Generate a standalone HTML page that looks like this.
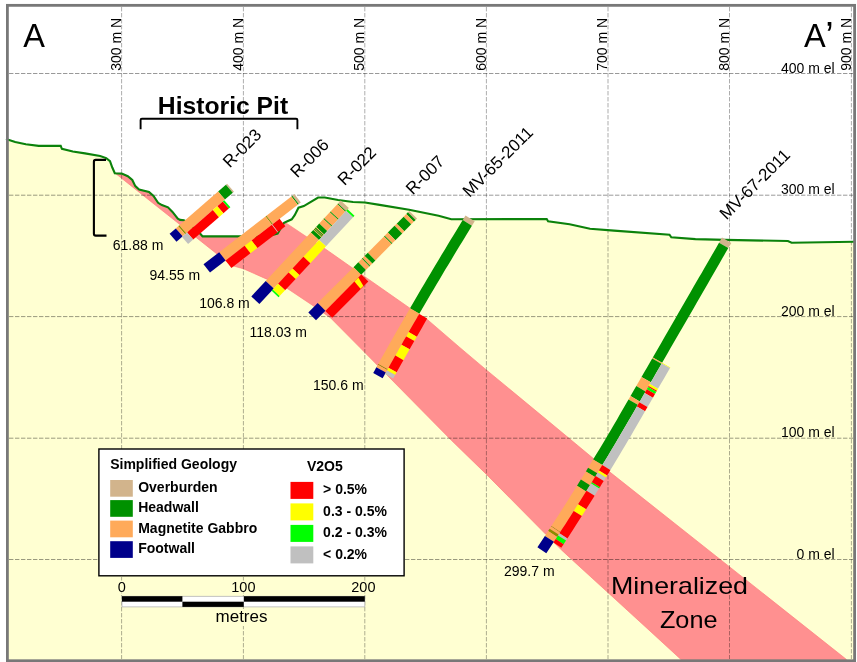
<!DOCTYPE html>
<html lang="en"><head><meta charset="utf-8"><title>Cross Section A-A'</title>
<style>html,body{margin:0;padding:0;background:#fff}body{width:857px;height:662px;overflow:hidden}svg{display:block;will-change:transform}text{font-family:"Liberation Sans",Arial,sans-serif;fill:#000}</style></head><body>
<svg width="857" height="662" viewBox="0 0 857 662">
<rect width="857" height="662" fill="#fff"/>
<polygon points="6,139 8.3,139.7 15.2,142 25.8,144.3 38.7,145.9 60.7,145.8 61.9,148.8 72.8,151.5 85,153.4 100.1,155.9 106.2,158.1 110,161.1 112.3,167.5 114.8,173.2 121.7,173.6 127.8,176.2 132.3,180 135.3,186.1 139.1,189.6 149,191.9 153.5,196 158.1,202.8 161.9,205.1 168,207.3 172.5,211.9 177.8,218.7 180.1,219.9 183.9,220.2 188,222.5 194,228.5 200.3,233.7 202.6,236.4 240.3,236.4 268,236.4 272.5,235 277.6,233.6 284,222.8 291.7,219.3 294.7,215.2 298.5,207.7 303.8,206.1 318.1,197.5 324.8,197.5 338.1,200 353,202 365,202.5 379.6,204.9 409.1,209.8 438.6,215.8 451.3,219.2 546.7,219 548.1,221.3 569.6,224.3 590,228.8 614,230.6 669.5,234.7 671.3,237.3 695.4,239.1 725,239.9 787.9,241 791.6,242.8 854,241.7 854,661 6,661" fill="#ffffd2"/>
<polygon points="115.6,173.5 231.5,265.5 243.3,268.7 266.3,278.9 287.8,288.8 315.8,307.5 330.4,317.7 360,347.6 400.8,389 451.1,440 486.5,474.4 545.5,534 562,550.4 571.8,559.5 607.7,592.3 650,631 681,659.5 846.5,659.5 606,469 550,422.5 486.3,369.9 460,347.7 427.2,319.4 410.2,308.4 396,298.5 367.7,278.7 325.7,249.2 307.2,237.2 285.8,222.9 284,222.8 277.6,233.6 272.5,235 268,236.4 240.3,236.4 202.6,236.4 200.3,233.7 194,228.5 188,222.5 183.9,220.2 180.1,219.9 177.8,218.7 172.5,211.9 168,207.3 161.9,205.1 158.1,202.8 153.5,196 149,191.9 139.1,189.6 135.3,186.1 132.3,180 127.8,176.2 121.7,173.6 114.8,173.2" fill="#ff9090" stroke="#ff7c7c" stroke-width="0.7" stroke-linejoin="round"/>
<g stroke="#000" stroke-width="1" stroke-dasharray="4.4 1.6" fill="none">
<g stroke-opacity="0.32">
<line x1="121.6" y1="7" x2="121.6" y2="659"/>
<line x1="243.4" y1="7" x2="243.4" y2="659"/>
<line x1="364.8" y1="7" x2="364.8" y2="659"/>
<line x1="486.4" y1="7" x2="486.4" y2="659"/>
<line x1="608" y1="7" x2="608" y2="659"/>
<line x1="729.5" y1="7" x2="729.5" y2="659"/>
<line x1="851.4" y1="7" x2="851.4" y2="659"/>
</g><g stroke-opacity="0.4">
<line x1="9" y1="73.5" x2="853" y2="73.5"/>
<line x1="9" y1="195.2" x2="853" y2="195.2"/>
<line x1="9" y1="316.6" x2="853" y2="316.6"/>
<line x1="9" y1="438.2" x2="853" y2="438.2"/>
<line x1="9" y1="559.5" x2="853" y2="559.5"/>
</g></g>
<polyline points="6,139 8.3,139.7 15.2,142 25.8,144.3 38.7,145.9 60.7,145.8 61.9,148.8 72.8,151.5 85,153.4 100.1,155.9 106.2,158.1 110,161.1 112.3,167.5 114.8,173.2 121.7,173.6 127.8,176.2 132.3,180 135.3,186.1 139.1,189.6 149,191.9 153.5,196 158.1,202.8 161.9,205.1 168,207.3 172.5,211.9 177.8,218.7 180.1,219.9 183.9,220.2 188,222.5 194,228.5 200.3,233.7 202.6,236.4 240.3,236.4 268,236.4 272.5,235 277.6,233.6 284,222.8 291.7,219.3 294.7,215.2 298.5,207.7 303.8,206.1 318.1,197.5 324.8,197.5 338.1,200 353,202 365,202.5 379.6,204.9 409.1,209.8 438.6,215.8 451.3,219.2 546.7,219 548.1,221.3 569.6,224.3 590,228.8 614,230.6 669.5,234.7 671.3,237.3 695.4,239.1 725,239.9 787.9,241 791.6,242.8 854,241.7" fill="none" stroke="#0b820b" stroke-width="2.1" stroke-linejoin="miter" stroke-miterlimit="2.5"/>
<g>
<polygon points="234,191.7 232.8,192.7 225.9,184.8 227.1,183.8" fill="#d2b48c"/>
<polygon points="232.8,192.7 224.9,199.6 218.1,191.6 225.9,184.8" fill="#009100"/>
<polygon points="224.9,199.6 186.2,233.2 179.3,225.3 218.1,191.6" fill="#ffaa5a"/>
<polygon points="186.2,233.2 185.1,234.2 178.2,226.3 179.3,225.3" fill="#8c8c00"/>
<polygon points="185.1,234.2 182.7,236.3 175.8,228.4 178.2,226.3" fill="#ffaa5a"/>
<polygon points="182.7,236.3 176.5,241.7 169.6,233.8 175.8,228.4" fill="#00008b"/>
<polygon points="224.3,200.2 222.7,201.5 228.8,208.6 230.4,207.2" fill="#00ff00"/>
<polygon points="222.7,201.5 217.3,206.2 223.4,213.2 228.8,208.6" fill="#ff0000"/>
<polygon points="217.3,206.2 212.8,210.1 218.9,217.2 223.4,213.2" fill="#ffff00"/>
<polygon points="212.8,210.1 187.1,232.5 193.2,239.5 218.9,217.2" fill="#ff0000"/>
<polygon points="187.1,232.5 182,236.9 188.1,243.9 193.2,239.5" fill="#c0c0c0"/>
</g>
<g>
<polygon points="300.8,202.4 298.7,204 292.3,195.7 294.4,194.1" fill="#d2b48c"/>
<polygon points="298.7,204 297.8,204.7 291.4,196.4 292.3,195.7" fill="#009100"/>
<polygon points="297.8,204.7 272.9,224 266.4,215.7 291.4,196.4" fill="#ffaa5a"/>
<polygon points="272.9,224 271.9,224.7 265.5,216.4 266.4,215.7" fill="#8c8c00"/>
<polygon points="271.9,224.7 225.6,260.5 219.2,252.2 265.5,216.4" fill="#ffaa5a"/>
<polygon points="225.6,260.5 210,272.6 203.5,264.3 219.2,252.2" fill="#00008b"/>
<polygon points="279.6,218.8 272.2,224.5 278,232.1 285.4,226.3" fill="#ff0000"/>
<polygon points="272.2,224.5 271.8,224.8 277.6,232.4 278,232.1" fill="#c0c0c0"/>
<polygon points="271.8,224.8 251.6,240.4 257.4,248 277.6,232.4" fill="#ff0000"/>
<polygon points="251.6,240.4 244.6,245.8 250.4,253.3 257.4,248" fill="#ffff00"/>
<polygon points="244.6,245.8 225.6,260.5 231.4,268 250.4,253.3" fill="#ff0000"/>
</g>
<g>
<polygon points="348.8,208 346.1,210.9 338,203.4 340.7,200.5" fill="#d2b48c"/>
<polygon points="346.1,210.9 345.3,211.7 337.3,204.2 338,203.4" fill="#009100"/>
<polygon points="345.3,211.7 338.6,219 330.5,211.4 337.3,204.2" fill="#ffaa5a"/>
<polygon points="338.6,219 337.9,219.7 329.8,212.2 330.5,211.4" fill="#009100"/>
<polygon points="337.9,219.7 332.2,225.8 324.1,218.3 329.8,212.2" fill="#ffaa5a"/>
<polygon points="332.2,225.8 331.5,226.6 323.4,219.1 324.1,218.3" fill="#009100"/>
<polygon points="331.5,226.6 327.2,231.1 319.2,223.6 323.4,219.1" fill="#ffaa5a"/>
<polygon points="327.2,231.1 324.1,234.5 316.1,227 319.2,223.6" fill="#009100"/>
<polygon points="324.1,234.5 321.4,237.4 313.3,229.9 316.1,227" fill="#ffaa5a"/>
<polygon points="323.5,235.1 322.9,235.7 314.9,228.2 315.5,227.6" fill="#009100"/>
<polygon points="322.5,236.2 321.9,236.8 313.9,229.3 314.5,228.7" fill="#009100"/>
<polygon points="321.4,237.4 318.9,240.1 310.8,232.6 313.3,229.9" fill="#009100"/>
<polygon points="318.9,240.1 273.8,288.4 265.7,280.9 310.8,232.6" fill="#ffaa5a"/>
<polygon points="273.8,288.4 259.4,303.9 251.3,296.4 265.7,280.9" fill="#00008b"/>
<polygon points="347.6,209.3 346.1,210.8 353.1,217.3 354.5,215.8" fill="#00ff00"/>
<polygon points="346.1,210.8 319.1,239.9 326,246.3 353.1,217.3" fill="#c0c0c0"/>
<polygon points="319.1,239.9 303.4,256.7 310.3,263.2 326,246.3" fill="#ffff00"/>
<polygon points="303.4,256.7 292.5,268.4 299.4,274.9 310.3,263.2" fill="#ff0000"/>
<polygon points="292.5,268.4 288.6,272.5 295.6,279 299.4,274.9" fill="#ffff00"/>
<polygon points="288.6,272.5 278.1,283.7 285.1,290.2 295.6,279" fill="#ff0000"/>
<polygon points="278.1,283.7 272.7,289.6 279.6,296.1 285.1,290.2" fill="#ffff00"/>
<polygon points="272.7,289.6 271.7,290.7 278.6,297.2 279.6,296.1" fill="#00ff00"/>
</g>
<g>
<polygon points="417,218.5 415.6,219.9 407.9,212.3 409.3,210.9" fill="#d2b48c"/>
<polygon points="415.6,219.9 413.8,221.7 406.2,214.1 407.9,212.3" fill="#009100"/>
<polygon points="413.8,221.7 411.2,224.3 403.6,216.7 406.2,214.1" fill="#ffaa5a"/>
<polygon points="411.2,224.3 404.3,231.3 396.7,223.7 403.6,216.7" fill="#009100"/>
<polygon points="404.3,231.3 402.2,233.4 394.5,225.8 396.7,223.7" fill="#ffaa5a"/>
<polygon points="402.2,233.4 395.4,240.2 387.8,232.6 394.5,225.8" fill="#009100"/>
<polygon points="395.4,240.2 392.3,243.3 384.7,235.7 387.8,232.6" fill="#ffaa5a"/>
<polygon points="392.3,243.3 391.6,244 384,236.4 384.7,235.7" fill="#009100"/>
<polygon points="391.6,244 375.4,260.4 367.8,252.8 384,236.4" fill="#ffaa5a"/>
<polygon points="375.4,260.4 372.3,263.6 364.6,255.9 367.8,252.8" fill="#009100"/>
<polygon points="372.3,263.6 370.1,265.7 362.5,258.1 364.6,255.9" fill="#ffaa5a"/>
<polygon points="370.1,265.7 369.4,266.4 361.8,258.8 362.5,258.1" fill="#009100"/>
<polygon points="369.4,266.4 365.9,269.9 358.3,262.3 361.8,258.8" fill="#ffaa5a"/>
<polygon points="365.9,269.9 361.1,274.8 353.5,267.2 358.3,262.3" fill="#009100"/>
<polygon points="361.1,274.8 325.4,310.7 317.7,303.1 353.5,267.2" fill="#ffaa5a"/>
<polygon points="325.4,310.7 316,320.3 308.3,312.6 317.7,303.1" fill="#00008b"/>
<polygon points="361.3,274.6 325.3,310.9 332.2,317.8 368.3,281.5" fill="#ff0000"/>
<polygon points="358.4,277.5 354.4,281.6 360.5,288.7 363.4,285.9" fill="#ffff00"/>
</g>
<g>
<polygon points="474.7,221.3 471.9,225.8 462.7,220.1 465.5,215.6" fill="#d2b48c"/>
<polygon points="471.9,225.8 468.9,230.7 466,235.5 463,240.4 460,245.2 457.1,250.1 454.1,255 451.2,259.9 448.3,264.7 445.3,269.6 442.4,274.5 439.5,279.4 436.6,284.3 433.7,289.2 430.8,294.1 427.9,299 425,303.9 422.2,308.8 419.3,313.8 410,308.3 412.8,303.4 415.7,298.5 418.6,293.5 421.5,288.6 424.4,283.7 427.3,278.8 430.2,273.9 433.1,269 436.1,264.1 439,259.2 441.9,254.3 444.9,249.4 447.8,244.5 450.8,239.6 453.8,234.8 456.7,229.9 459.7,225 462.7,220.1" fill="#009100"/>
<polygon points="419.3,313.8 416.4,318.8 413.5,323.8 410.6,328.8 407.7,333.9 404.8,338.9 401.9,343.9 399.1,349 396.2,354 393.4,359.1 390.5,364.1 387.7,369.2 378.3,363.9 381.1,358.8 384,353.8 386.8,348.7 389.7,343.6 392.6,338.6 395.4,333.5 398.3,328.5 401.2,323.4 404.1,318.4 407,313.4 410,308.3" fill="#ffaa5a"/>
<polygon points="387.7,369.2 387.2,370.1 377.8,364.8 378.3,363.9" fill="#8c8c00"/>
<polygon points="387.2,370.1 385.8,372.6 376.3,367.3 377.8,364.8" fill="#ffaa5a"/>
<polygon points="385.8,372.6 384.2,375.4 382.6,378.3 373.2,373 374.8,370.2 376.3,367.3" fill="#00008b"/>
<polygon points="419.2,313.9 416.6,318.5 413.9,323 411.3,327.6 408.7,332.1 416.8,336.8 419.4,332.2 422,327.7 424.6,323.1 427.2,318.6" fill="#ff0000"/>
<polygon points="408.7,332.1 406.2,336.5 414.3,341.1 416.8,336.8" fill="#ffff00"/>
<polygon points="406.2,336.5 403.8,340.6 401.5,344.7 409.6,349.3 411.9,345.2 414.3,341.1" fill="#ff0000"/>
<polygon points="401.5,344.7 399.4,348.3 397.4,352 395.3,355.6 403.4,360.2 405.5,356.5 407.5,352.9 409.6,349.3" fill="#ffff00"/>
<polygon points="395.3,355.6 393,359.7 390.7,363.7 388.5,367.8 396.6,372.3 398.9,368.3 401.1,364.2 403.4,360.2" fill="#ff0000"/>
<polygon points="388.5,367.8 387,370.4 395.1,374.9 396.6,372.3" fill="#ffff00"/>
<polygon points="387,370.4 385,373.9 393.2,378.4 395.1,374.9" fill="#c0c0c0"/>
</g>
<g>
<polygon points="731.3,242.9 728.3,248.1 719,242.7 722,237.6" fill="#d2b48c"/>
<polygon points="728.3,248.1 725.4,253.1 722.5,258.1 719.7,263.1 716.8,268 713.9,273 711,278 708.2,283 705.3,288 702.4,293 699.5,297.9 696.6,302.9 693.8,307.9 690.9,312.9 688,317.9 685.1,322.9 682.2,327.9 679.4,332.8 676.5,337.8 673.6,342.8 670.7,347.8 667.9,352.8 665,357.8 662.1,362.8 652.8,357.4 655.7,352.4 658.6,347.4 661.5,342.5 664.3,337.5 667.2,332.5 670.1,327.5 673,322.5 675.9,317.5 678.7,312.5 681.6,307.6 684.5,302.6 687.4,297.6 690.3,292.6 693.1,287.6 696,282.6 698.9,277.6 701.8,272.7 704.6,267.7 707.5,262.7 710.4,257.7 713.3,252.7 716.2,247.7 719,242.7" fill="#009100"/>
<polygon points="662.1,362.8 661.5,363.8 652.2,358.4 652.8,357.4" fill="#ffaa5a"/>
<polygon points="661.5,363.8 658.8,368.4 656.1,373.1 653.5,377.7 650.8,382.3 641.5,377 644.2,372.3 646.9,367.7 649.6,363.1 652.2,358.4" fill="#009100"/>
<polygon points="650.8,382.3 648.2,386.9 645.5,391.4 636.3,386.1 638.9,381.5 641.5,377" fill="#ffaa5a"/>
<polygon points="645.5,391.4 642.7,396.4 639.8,401.4 630.5,396 633.4,391.1 636.3,386.1" fill="#009100"/>
<polygon points="639.8,401.4 637.8,404.8 628.5,399.5 630.5,396" fill="#ffaa5a"/>
<polygon points="637.8,404.8 634.9,409.9 632,415 629,420 626.1,425 623.2,430.1 620.2,435.1 617.3,440.1 614.3,445.2 611.3,450.2 608.3,455.2 605.3,460.2 602.3,465.1 593.1,459.6 596.1,454.6 599.1,449.7 602.1,444.7 605.1,439.7 608,434.7 611,429.7 613.9,424.7 616.9,419.7 619.8,414.6 622.7,409.6 625.6,404.5 628.5,399.5" fill="#009100"/>
<polygon points="602.3,465.1 599.8,469.3 597.3,473.3 588.1,467.8 590.6,463.7 593.1,459.6" fill="#ffaa5a"/>
<polygon points="597.3,473.3 595,477 585.9,471.4 588.1,467.8" fill="#009100"/>
<polygon points="595,477 592.5,481.1 590,485.2 580.9,479.5 583.4,475.5 585.9,471.4" fill="#ffaa5a"/>
<polygon points="590,485.2 588,488.3 586.1,491.4 577,485.7 579,482.6 580.9,479.5" fill="#009100"/>
<polygon points="586.1,491.4 582.9,496.5 579.7,501.5 576.5,506.6 573.3,511.7 570.1,516.7 566.9,521.8 563.6,526.8 560.3,531.9 551.4,526 554.6,521 557.9,516 561.1,511 564.3,505.9 567.5,500.9 570.7,495.8 573.9,490.8 577,485.7" fill="#ffaa5a"/>
<polygon points="560.3,531.9 560,532.4 551,526.5 551.4,526" fill="#8c8c00"/>
<polygon points="560,532.4 558.6,534.6 549.6,528.7 551,526.5" fill="#ffaa5a"/>
<polygon points="558.6,534.6 557.1,536.9 548.1,531 549.6,528.7" fill="#8c8c00"/>
<polygon points="557.1,536.9 553.9,541.7 544.9,535.9 548.1,531" fill="#ffaa5a"/>
<polygon points="553.9,541.7 551.4,545.6 548.8,549.4 546.3,553.3 537.4,547.3 539.9,543.5 542.4,539.7 544.9,535.9" fill="#00008b"/>
<polygon points="662.1,362.8 661.8,363.4 670,368.1 670.3,367.5" fill="#ffff00"/>
<polygon points="661.8,363.4 658.8,368.5 655.8,373.7 652.8,378.9 649.8,384.1 658,388.8 661,383.6 664,378.5 667,373.3 670,368.1" fill="#c0c0c0"/>
<polygon points="649.8,384.1 648.7,386 656.9,390.7 658,388.8" fill="#ffff00"/>
<polygon points="648.7,386 648,387.1 656.3,391.8 656.9,390.7" fill="#ff0000"/>
<polygon points="648,387.1 646.8,389.3 655,394 656.3,391.8" fill="#00ff00"/>
<polygon points="646.8,389.3 644.6,393 652.9,397.7 655,394" fill="#ff0000"/>
<polygon points="644.6,393 642,397.6 639.3,402.2 647.5,407 650.2,402.4 652.9,397.7" fill="#c0c0c0"/>
<polygon points="639.3,402.2 636.8,406.6 645,411.3 647.5,407" fill="#ff0000"/>
<polygon points="636.8,406.6 634,411.5 631.1,416.4 628.3,421.3 625.4,426.2 622.6,431.1 619.7,436 616.8,440.9 613.9,445.7 611,450.6 608.1,455.4 605.2,460.3 602.3,465.1 610.4,470.1 613.3,465.2 616.3,460.3 619.2,455.5 622.1,450.6 625,445.7 627.9,440.8 630.8,435.9 633.6,431 636.5,426.1 639.4,421.1 642.2,416.2 645,411.3" fill="#c0c0c0"/>
<polygon points="602.3,465.1 600.6,467.8 599,470.4 607.1,475.4 608.8,472.7 610.4,470.1" fill="#ff0000"/>
<polygon points="599,470.4 597.8,472.5 605.9,477.5 607.1,475.4" fill="#ffff00"/>
<polygon points="597.8,472.5 595.6,476.1 603.7,481 605.9,477.5" fill="#c0c0c0"/>
<polygon points="595.6,476.1 593.7,479.1 591.8,482.2 599.9,487.2 601.8,484.1 603.7,481" fill="#ff0000"/>
<polygon points="591.8,482.2 591,483.6 599,488.6 599.9,487.2" fill="#00ff00"/>
<polygon points="591,483.6 588.8,487.1 586.5,490.7 594.6,495.7 596.8,492.1 599,488.6" fill="#c0c0c0"/>
<polygon points="586.5,490.7 583.7,495.2 580.9,499.7 578,504.3 586.1,509.3 588.9,504.8 591.8,500.3 594.6,495.7" fill="#ff0000"/>
<polygon points="578,504.3 575.9,507.6 573.7,511 581.8,516.1 583.9,512.7 586.1,509.3" fill="#ffff00"/>
<polygon points="573.7,511 570.9,515.5 568,519.9 565.2,524.4 562.3,528.8 559.4,533.3 567.4,538.5 570.3,534 573.2,529.5 576,525.1 578.9,520.6 581.8,516.1" fill="#ff0000"/>
<polygon points="559.4,533.3 558,535.4 566,540.6 567.4,538.5" fill="#c0c0c0"/>
<polygon points="558,535.4 555.7,539 563.6,544.2 566,540.6" fill="#00ff00"/>
<polygon points="555.7,539 553.4,542.5 561.3,547.7 563.6,544.2" fill="#ff0000"/>
</g>
<rect x="7.4" y="5.35" width="847.2" height="655.4" fill="none" stroke="#787878" stroke-width="2.8"/>
<g font-size="14">
<text transform="translate(121,70.8) rotate(-90)">300 m N</text>
<text transform="translate(242.8,70.8) rotate(-90)">400 m N</text>
<text transform="translate(364.2,70.8) rotate(-90)">500 m N</text>
<text transform="translate(485.8,70.8) rotate(-90)">600 m N</text>
<text transform="translate(607.4,70.8) rotate(-90)">700 m N</text>
<text transform="translate(728.9,70.8) rotate(-90)">800 m N</text>
<text transform="translate(850.8,70.8) rotate(-90)">900 m N</text>
<text x="834.7" y="72.7" text-anchor="end">400 m el</text>
<text x="834.7" y="194.4" text-anchor="end">300 m el</text>
<text x="834.7" y="315.8" text-anchor="end">200 m el</text>
<text x="834.7" y="437.4" text-anchor="end">100 m el</text>
<text x="834.7" y="558.7" text-anchor="end">0 m el</text>
</g>
<text x="23.2" y="46.6" font-size="32.5">A</text>
<text x="804" y="46.6" font-size="32.5">A<tspan font-size="38" dx="-0.5" dy="2.6">’</tspan></text>
<text x="157.8" y="113.6" font-size="24" font-weight="bold" textLength="130.4" lengthAdjust="spacingAndGlyphs">Historic Pit</text>
<path d="M140.6 129.2 V120.0 Q140.6 118.7 141.9 118.7 H296.1 Q297.4 118.7 297.4 120.0 V129.2" fill="none" stroke="#000" stroke-width="1.9"/>
<path d="M106 159.9 H95.7 Q93.9 159.9 93.9 161.7 V233.8 Q93.9 235.6 95.7 235.6 H106.5" fill="none" stroke="#000" stroke-width="2.1"/>
<g font-size="17">
<text transform="translate(229.7,168.6) rotate(-45)">R-023</text>
<text transform="translate(297.2,178.6) rotate(-45)">R-006</text>
<text transform="translate(344.5,186.3) rotate(-45)">R-022</text>
<text transform="translate(412.8,195.4) rotate(-45)">R-007</text>
<text transform="translate(469.5,198.1) rotate(-45)">MV-65-2011</text>
<text transform="translate(726.5,220.6) rotate(-45)">MV-67-2011</text>
</g>
<g font-size="14">
<text x="112.8" y="250.3">61.88 m</text>
<text x="149.5" y="280.3">94.55 m</text>
<text x="199.2" y="307.5">106.8 m</text>
<text x="249.5" y="337.3">118.03 m</text>
<text x="313" y="390.4">150.6 m</text>
<text x="504" y="576.3">299.7 m</text>
</g>
<text x="611" y="593.9" font-size="24" textLength="137" lengthAdjust="spacingAndGlyphs">Mineralized</text>
<text x="659.9" y="627.5" font-size="24" textLength="57.6" lengthAdjust="spacingAndGlyphs">Zone</text>
<rect x="98.9" y="449" width="305.2" height="126.8" fill="#fff" stroke="#000" stroke-width="1.4"/>
<g font-size="14" font-weight="bold">
<text x="110.2" y="468.5">Simplified Geology</text>
<text x="307" y="470.7">V2O5</text>
<rect x="110.2" y="480" width="22.6" height="16.7" fill="#d2b48c"/>
<text x="138.2" y="491.9">Overburden</text>
<rect x="110.2" y="500.1" width="22.6" height="16.7" fill="#009100"/>
<text x="138.2" y="512.3">Headwall</text>
<rect x="110.2" y="520.6" width="22.6" height="16.7" fill="#ffaa5a"/>
<text x="138.2" y="532.7">Magnetite Gabbro</text>
<rect x="110.2" y="541.2" width="22.6" height="16.7" fill="#00008b"/>
<text x="138.2" y="552.8">Footwall</text>
<rect x="290.5" y="481.9" width="22.8" height="17" fill="#ff0000"/>
<text x="323.1" y="494.3">&gt; 0.5%</text>
<rect x="290.5" y="503.4" width="22.8" height="17" fill="#ffff00"/>
<text x="323.1" y="515.8">0.3 - 0.5%</text>
<rect x="290.5" y="524.9" width="22.8" height="17" fill="#00ff00"/>
<text x="323.1" y="537.3">0.2 - 0.3%</text>
<rect x="290.5" y="546.4" width="22.8" height="17" fill="#c0c0c0"/>
<text x="323.1" y="558.8">&lt; 0.2%</text>
</g>
<g>
<rect x="122" y="596.3" width="242.8" height="10.6" fill="#fff" stroke="#b4b4b4" stroke-width="0.8"/>
<rect x="122" y="596.2" width="60.4" height="5.5" fill="#000"/>
<rect x="182.4" y="601.7" width="61.4" height="5.2" fill="#000"/>
<rect x="243.8" y="596.2" width="121" height="5.5" fill="#000"/>
<g fill="#ffffd2"><rect x="117" y="580.5" width="9.5" height="12"/><rect x="231" y="580.5" width="25" height="12"/><rect x="351" y="580.5" width="25" height="12"/><rect x="215" y="609" width="53" height="17"/></g>
<g font-size="14.5" text-anchor="middle">
<text x="121.8" y="591.6">0</text><text x="243.4" y="591.6">100</text><text x="363.4" y="591.6">200</text>
</g>
<text x="241.5" y="621.9" font-size="17" text-anchor="middle">metres</text>
</g>
</svg></body></html>
